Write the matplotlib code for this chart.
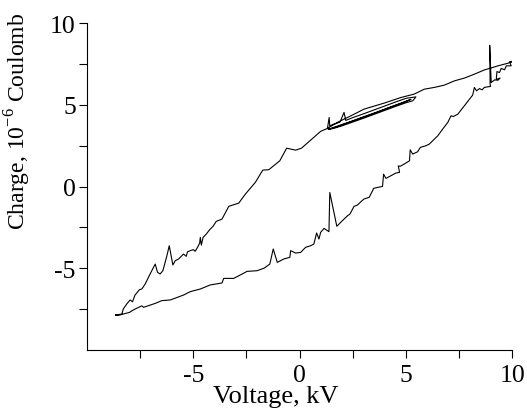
#!/usr/bin/env python3
"""Charge-voltage (Lissajous) loop, redrawn from the reference figure."""

import matplotlib

matplotlib.use("Agg")
import matplotlib.pyplot as plt
import numpy as np

# upper branch: lower-left start up to the x~1.3 kV region
upper_left_v = [-8.65, -8.36, -8.29, -8.13, -7.97, -7.86, -7.74, -7.53, -7.42, -7.26,
                -7.03, -6.79, -6.68, -6.56, -6.43, -6.24, -6.13, -5.96, -5.85, -5.69,
                -5.46, -5.33, -5.27, -5.14, -4.99, -4.91, -4.80, -4.70, -4.67, -4.62,
                -4.54, -4.39, -4.23, -4.07, -3.92, -3.65, -3.33, -2.86, -2.55, -2.08,
                -1.73, -1.45, -0.93, -0.61, -0.19, 0.09, 0.52, 0.99, 1.31]
upper_left_q = [-7.86, -7.80, -7.49, -7.19, -6.94, -7.05, -6.64, -6.31, -6.27, -5.96,
                -5.35, -4.74, -5.25, -5.35, -5.15, -4.23, -3.62, -4.80, -4.54, -4.43,
                -4.13, -4.27, -3.99, -3.92, -3.86, -3.96, -3.72, -3.46, -3.11, -3.58,
                -3.11, -2.91, -2.64, -2.43, -2.13, -1.99, -1.21, -1.01, -0.46, 0.26,
                1.01, 1.03, 1.58, 2.35, 2.23, 2.35, 2.84, 3.38, 3.56]

# repeated back-and-forth passes near 1.3..5.5 kV (dark band)
inner_v = [1.39, 1.42, 1.55, 1.70, 1.90, 2.09, 2.17, 2.50, 3.00, 3.50, 4.00, 4.50, 5.00, 5.47,
           5.32, 5.00, 4.50, 4.00, 3.50, 3.00, 2.50, 2.00, 1.60, 1.35,
           1.60, 2.00, 2.50, 3.00, 3.50, 4.00, 4.50, 5.00, 5.24,
           4.80, 4.20, 3.60, 3.00, 2.40, 1.80, 1.40, 1.31]
inner_q = [4.23, 3.70, 3.80, 3.85, 3.95, 4.54, 4.05, 4.22, 4.45, 4.69, 4.93, 5.17, 5.40, 5.49,
           5.25, 5.13, 4.90, 4.66, 4.42, 4.18, 3.95, 3.72, 3.56, 3.50,
           3.62, 3.80, 4.03, 4.27, 4.50, 4.74, 4.98, 5.22, 5.34,
           5.10, 4.82, 4.52, 4.24, 3.96, 3.68, 3.52, 3.56]

# upper branch continued to the right tip
upper_right_v = [1.78, 2.41, 3.03, 3.98, 4.76, 5.39, 5.86, 6.34, 6.81, 7.28, 7.75, 8.22,
                 8.69, 8.93, 9.33, 9.80, 10.03, 10.11]
upper_right_q = [3.93, 4.33, 4.74, 5.11, 5.45, 5.66, 5.96, 6.07, 6.21, 6.47, 6.64, 6.88,
                 7.14, 7.23, 7.39, 7.55, 7.69, 7.60]

# lower branch back to the start (incl. vertical spike near 9 kV)
lower_v = [9.87, 9.95, 9.72, 9.64, 9.48, 9.40, 9.28, 9.25, 9.43, 9.33, 9.17, 9.01,
           8.94, 8.96, 8.98, 8.69, 8.58, 8.46, 8.32, 8.22, 8.14, 7.99, 7.75, 7.44,
           7.23, 7.12, 6.97, 6.73, 6.50, 6.34, 6.10, 5.94, 5.68, 5.55, 5.32, 5.20,
           5.17, 4.92, 4.73, 4.64, 4.70, 4.53, 4.29, 4.06, 3.95, 3.90, 3.67, 3.48,
           3.43, 3.27, 3.03, 2.88, 2.72, 2.56, 2.49, 2.37, 2.25, 2.01, 1.75, 1.42,
           1.38, 1.15, 0.99, 0.91, 0.80, 0.67, 0.52, 0.28, 0.05, -0.19, -0.42, -0.46,
           -0.74, -1.05, -1.24, -1.40, -1.50, -1.68, -2.00, -2.47, -2.70, -3.10,
           -3.57, -3.65, -4.20, -4.67, -5.14, -5.46, -6.08, -6.48, -6.79, -7.34,
           -7.42, -7.82, -8.00, -8.29, -8.50, -8.65]
lower_q = [7.64, 7.39, 7.39, 7.15, 7.23, 6.98, 7.04, 6.57, 6.64, 6.51, 6.53, 6.37,
           8.65, 6.25, 6.13, 6.07, 5.92, 6.00, 5.86, 6.07, 5.60, 5.35, 4.94, 4.43,
           4.29, 4.33, 3.93, 3.52, 3.11, 2.91, 2.60, 2.50, 2.40, 2.13, 1.99, 2.25,
           1.58, 1.38, 1.24, 1.27, 0.87, 0.83, 0.66, 0.50, 0.76, 0.01, -0.05, -0.11,
           -0.26, -0.66, -0.76, -0.93, -1.13, -1.21, -1.38, -1.68, -1.79, -2.09, -2.43, -0.36,
           -2.76, -2.56, -2.80, -3.21, -2.84, -3.52, -3.62, -3.72, -4.03, -4.07, -3.92, -4.33,
           -4.43, -4.64, -3.82, -4.74, -4.84, -5.00, -5.15, -5.19, -5.35, -5.62,
           -5.62, -5.90, -6.02, -6.27, -6.43, -6.64, -6.94, -6.98, -7.15, -7.39,
           -7.30, -7.55, -7.70, -7.80, -7.88, -7.86]

x_ticks = [-5, 0, 5, 10]
y_ticks = [-5, 0, 5, 10]


def main() -> None:
    plt.rcParams.update(
        {
            "font.family": "Liberation Serif",
            "font.size": 18,
            "mathtext.fontset": "custom",
            "mathtext.rm": "Liberation Serif",
            "axes.unicode_minus": False,
            "axes.linewidth": 0.8,
        }
    )

    volt = np.concatenate([upper_left_v, inner_v, upper_right_v, lower_v])
    charge = np.concatenate([upper_left_q, inner_q, upper_right_q, lower_q])

    fig = plt.figure(figsize=(5.27, 4.10), dpi=100)
    ax = fig.add_axes([0.165, 0.144, 0.807, 0.797])
    ax.plot(volt, charge, color="black", linewidth=0.8)

    ax.set_xlim(-10, 10)
    ax.set_ylim(-10, 10)
    ax.set_xticks(x_ticks)
    ax.set_yticks(y_ticks)
    ax.set_xticks([-7.5, -2.5, 2.5, 7.5], minor=True)
    ax.set_yticks([-7.5, -2.5, 2.5, 7.5], minor=True)
    ax.tick_params(which="both", direction="out", length=6, width=0.8)
    ax.tick_params(axis="both", which="major", labelsize=18.5)
    ax.tick_params(axis="y", which="major", pad=2)
    ax.tick_params(axis="x", which="major", pad=4)
    for side in ("top", "right"):
        ax.spines[side].set_visible(False)

    ax.set_xlabel("Voltage, kV", fontsize=19)
    ax.set_ylabel(r"Charge, 10$^{\mathrm{-6}}$ Coulomb", fontsize=17)
    ax.xaxis.set_label_coords(0.4435, -0.107)
    ax.yaxis.set_label_coords(-0.127, 0.702)

    fig.savefig("out.png", dpi=100)
    plt.close(fig)


if __name__ == "__main__":
    main()
